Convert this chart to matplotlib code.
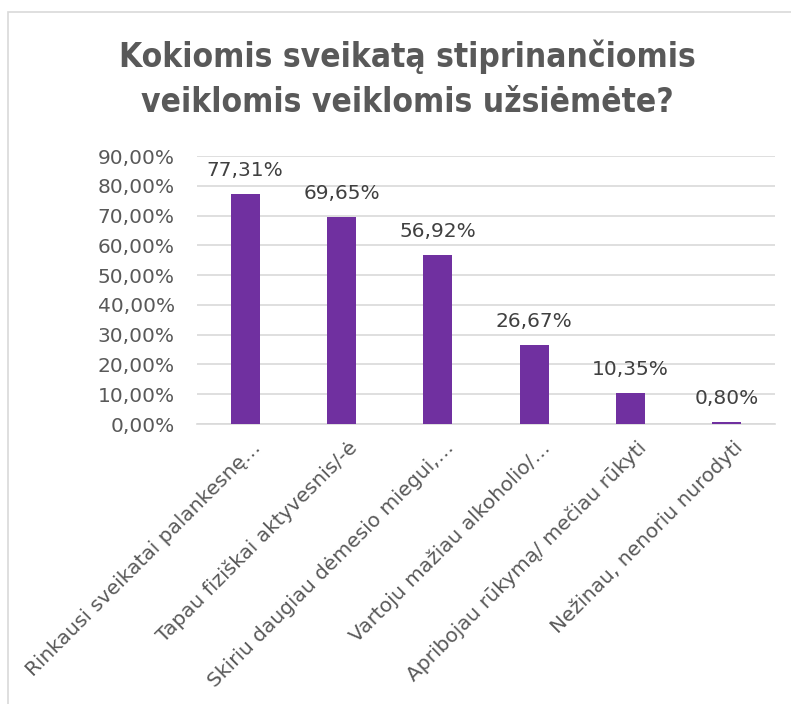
import matplotlib
matplotlib.use("Agg")
import matplotlib.pyplot as plt
from matplotlib.patches import Rectangle
from matplotlib.ticker import FuncFormatter
import matplotlib.transforms as mtransforms

categories = [
    "Rinkausi sveikatai palankesnę…",
    "Tapau fiziškai aktyvesnis/-ė",
    "Skiriu daugiau dėmesio miegui,…",
    "Vartoju mažiau alkoholio/…",
    "Apribojau rūkymą/ mečiau rūkyti",
    "Nežinau, nenoriu nurodyti",
]
values = [77.31, 69.65, 56.92, 26.67, 10.35, 0.80]
yticks = [0, 10, 20, 30, 40, 50, 60, 70, 80, 90]
title_lines = ["Kokiomis sveikatą stiprinančiomis", "veiklomis veiklomis užsiėmėte?"]

W, H = 791, 704
fig = plt.figure(figsize=(W / 100, H / 100), dpi=100)
fig.patch.set_facecolor("white")

# outer chart frame
fig.patches.append(Rectangle((8 / W, -0.1), 1.2, (H - 12) / H + 0.1,
                             transform=fig.transFigure, fill=False,
                             edgecolor="#D9D9D9", linewidth=1.2))

ax = fig.add_axes([197 / W, 1 - 424 / H, (775 - 197) / W, (424 - 156) / H])
x = range(len(categories))
ax.bar(x, values, width=0.3, color="#7030A0", zorder=3)
ax.set_ylim(0, 90)
ax.set_xlim(-0.5, len(categories) - 0.5)
ax.set_yticks(yticks)
ax.yaxis.set_major_formatter(FuncFormatter(lambda v, p: f"{v:.2f}%".replace(".", ",")))
ax.grid(axis="y", color="#D9D9D9", linewidth=1.2, zorder=0)
for s in ["top", "right", "left"]:
    ax.spines[s].set_visible(False)
ax.spines["bottom"].set_color("#D9D9D9")
ax.spines["bottom"].set_linewidth(1.2)
ax.tick_params(axis="both", length=0, colors="#595959", labelsize=14.5)
ax.tick_params(axis="y", pad=16)
ax.set_xticks(list(x))
ax.set_xticklabels(categories, rotation=45, ha="right", va="top",
                   rotation_mode="anchor", color="#595959", fontsize=14.5)
ax.tick_params(axis="x", pad=10)
shift = mtransforms.ScaledTranslation(6 / 100, 0, fig.dpi_scale_trans)
for lab in ax.get_xticklabels():
    lab.set_transform(lab.get_transform() + shift)

for i, v in enumerate(values):
    ax.annotate(f"{v:.2f}%".replace(".", ","), (i, v), xytext=(0, 10),
                textcoords="offset points", ha="center", va="bottom",
                fontsize=14.5, color="#404040")

for line, base in zip(title_lines, [67, 112]):
    fig.text(407 / W, 1 - base / H, line, ha="center", va="baseline",
             fontsize=24, fontweight="bold", color="#595959",
             family="DejaVu Sans", fontstretch="condensed")

fig.savefig("out.png", dpi=100)
